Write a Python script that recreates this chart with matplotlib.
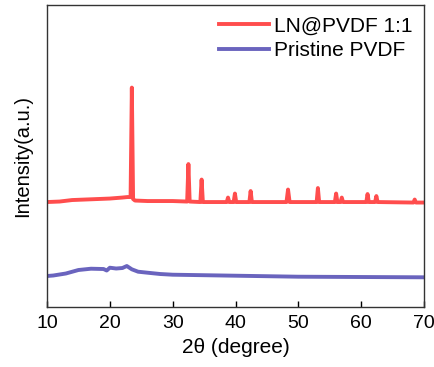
import matplotlib
matplotlib.use("Agg")
import matplotlib.pyplot as plt
import numpy as np

plt.rcParams['font.family'] = ['Liberation Sans', 'DejaVu Sans']

# LN@PVDF 1:1 (2theta, intensity in arbitrary units)
ln_x = [10, 12, 14, 16, 18, 20, 22, 22.8, 23.3, 23.5, 23.7, 24.0, 26, 28, 30, 32.3, 32.5, 32.7,
        34.4, 34.6, 34.8, 38.6, 38.8, 39.0, 39.7, 39.9, 40.1, 42.2, 42.4, 42.6, 48.1, 48.35, 48.6,
        52.9, 53.1, 53.3, 55.8, 56.0, 56.2, 56.7, 56.9, 57.1, 60.8, 61.0, 61.2, 62.2, 62.4, 62.6,
        68.3, 68.5, 68.7, 70]
ln_y = [105, 105.5, 107, 107.5, 108, 108.5, 109.5, 110, 110, 219.5, 108, 106.5, 106, 106, 106, 105.5, 143, 105.5,
        105, 127.5, 105, 105, 109.5, 105, 105, 113.5, 105, 105, 116, 105, 105, 117.5, 105,
        105, 119, 105, 105, 113.5, 105, 105, 109.5, 105, 105, 113, 105, 105, 111, 105,
        104.5, 107.5, 104.5, 104.5]

# Pristine PVDF
pv_x = [10, 11, 13, 15, 17, 19, 19.5, 20, 21, 22, 22.7, 23.5, 24.5, 26, 28, 30, 35, 40, 50, 60, 70]
pv_y = [31, 31.5, 33.5, 37, 38.3, 38, 36.5, 39.3, 38.5, 39, 41, 37.7, 35.3, 34.3, 33, 32.3, 31.8, 31.3, 30.3, 30, 29.7]

fig = plt.figure(figsize=(4.35, 3.67), dpi=100)
ax = fig.add_axes([0.108, 0.1635, 0.867, 0.8225])

ax.plot(ln_x, ln_y, color='#FF4D4D', lw=2.8, label='LN@PVDF 1:1')
ax.plot(pv_x, pv_y, color='#6A64BE', lw=2.8, label='Pristine PVDF')

ax.set_xlim(10, 70)
ax.set_ylim(0, 302)
ax.set_xticks([10, 20, 30, 40, 50, 60, 70])
ax.set_yticks([])
ax.tick_params(axis='x', direction='in', length=4, width=1, labelsize=14, pad=6)
for s in ax.spines.values():
    s.set_linewidth(1)
    s.set_color('#333333')
ax.set_xlabel('2θ (degree)', fontsize=15, labelpad=4)
ax.set_ylabel('Intensity(a.u.)', fontsize=14.5, labelpad=11)
ax.legend(loc='upper right', frameon=False, fontsize=15, handlelength=2.4,
          borderaxespad=0.1, labelspacing=0.25, handletextpad=0.25, borderpad=0.45)

fig.savefig('out.png', dpi=100)
